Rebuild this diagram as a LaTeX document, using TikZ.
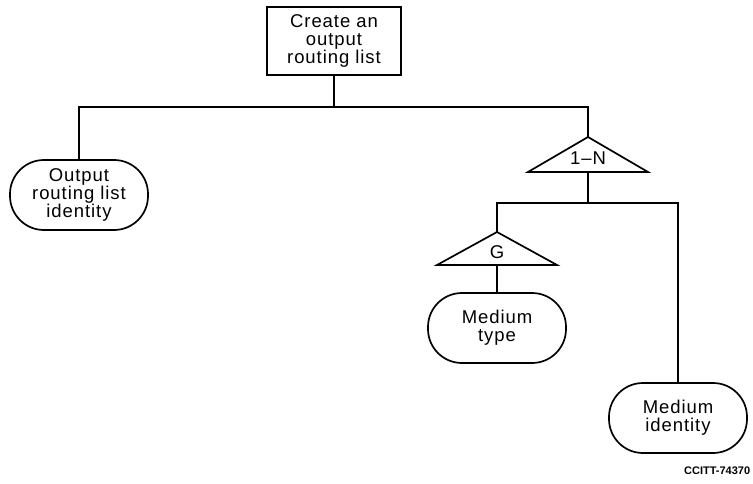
\documentclass[tikz,border=0pt]{standalone}
\usepackage{fontspec}
\setmainfont{Liberation Sans}[LetterSpace=5]
\newfontfamily\tagfont{Liberation Sans}
\begin{document}
\begin{tikzpicture}[x=1pt,y=-1pt, line width=1.7pt,
  lbl/.style={font=\fontsize{18.5}{18}\selectfont, align=center, inner sep=0pt},
  procbox/.style={draw, lbl, minimum width=134pt, minimum height=68pt},
  datum/.style={draw, lbl, rounded corners=34pt, minimum width=138pt, minimum height=70pt},
  trilbl/.style={lbl}]
\useasboundingbox (0,0) rectangle (753,484);

% nodes
\node[procbox] (top) at (334,41) {Create an\\output\\routing list};
\node[datum] (orl) at (79,195) {Output\\routing list\\identity};
\node[datum] (mty) at (497,328) {Medium\\type};
\node[datum] (mid) at (678,418) {Medium\\identity};

% triangle 1-N
\coordinate (t1apex) at (588,137);
\coordinate (t1l) at (528,172);
\coordinate (t1r) at (648,172);
\coordinate (t1base) at (588,172);
\draw[line join=miter] (t1apex) -- (t1l) -- (t1r) -- cycle;
\node[trilbl] (t1) at (588,158) {1--N};

% triangle G
\coordinate (t2apex) at (497,232);
\coordinate (t2l) at (437,265);
\coordinate (t2r) at (557,265);
\coordinate (t2base) at (497,265);
\draw[line join=miter] (t2apex) -- (t2l) -- (t2r) -- cycle;
\node[trilbl] (t2) at (497,252) {G};

% junctions
\coordinate (j1) at (334,107);
\coordinate (j2) at (588,203);

% connectors
\draw (top.south) -- (j1);
\draw (orl.north) |- (j1) -| (t1apex);
\draw (t1base) -- (j2);
\draw (t2apex) |- (j2) -| (mid.north);
\draw (t2base) -- (mty.north);

\node[anchor=east, inner sep=0pt, font=\tagfont\bfseries\fontsize{11}{12}\selectfont] (tag) at (751,471) {CCITT-74370};
\end{tikzpicture}
\end{document}
